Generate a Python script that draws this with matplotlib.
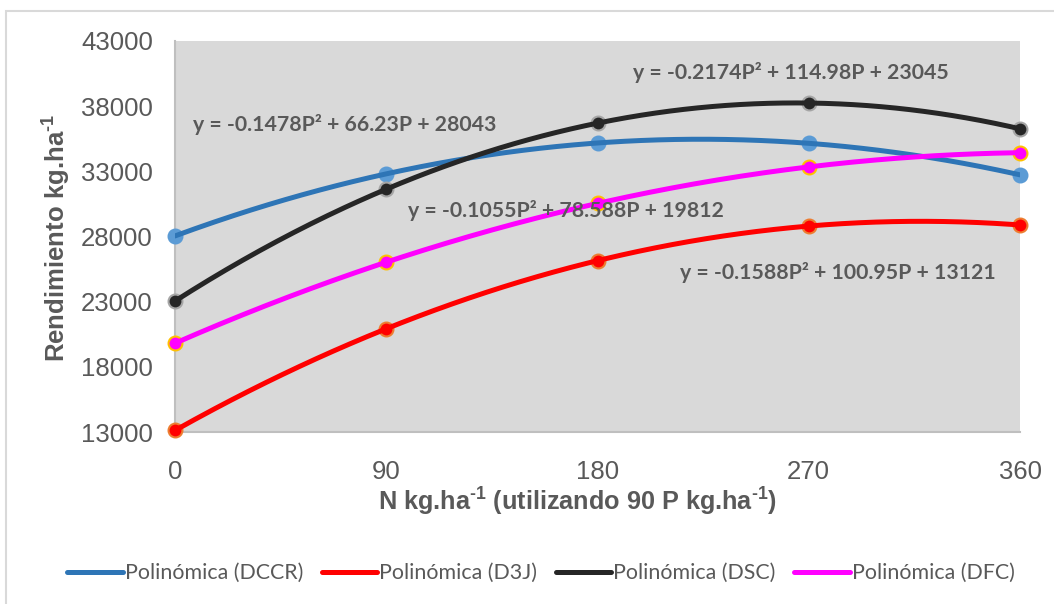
import numpy as np
import matplotlib.pyplot as plt
from matplotlib.lines import Line2D
from matplotlib.patches import Rectangle

plt.rcParams['mathtext.fontset'] = 'custom'
plt.rcParams['mathtext.rm'] = 'Liberation Sans:bold'
plt.rcParams['mathtext.bf'] = 'Liberation Sans:bold'

# dosis de N (kg/ha)
dosis = [0, 90, 180, 270, 360]
xticks = [0, 90, 180, 270, 360]
yticks = [13000, 18000, 23000, 28000, 33000, 38000, 43000]

# rendimientos observados por tratamiento
rend_dccr = [28040, 32810, 35180, 35150, 32730]
rend_d3j = [13120, 20920, 26150, 28800, 28880]
rend_dsc = [23050, 31630, 36700, 38240, 36260]
rend_dfc = [19810, 26030, 30540, 33340, 34430]

# coeficientes de las lineas de tendencia (a, b, c)
coef_dccr = [-0.1478, 66.23, 28043]
coef_d3j = [-0.1588, 100.95, 13121]
coef_dsc = [-0.2174, 114.98, 23045]
coef_dfc = [-0.1055, 78.588, 19812]

nombres = ["Polinómica (DCCR)", "Polinómica (D3J)", "Polinómica (DSC)", "Polinómica (DFC)"]
ecuaciones = ["y = -0.1478P² + 66.23P + 28043",
              "y = -0.1588P² + 100.95P + 13121",
              "y = -0.2174P² + 114.98P + 23045",
              "y = -0.1055P² + 78.588P + 19812"]
pos_ec = [(7.7, 36555), (215.1, 25276), (195.1, 40545), (99.3, 29957)]

series = [
    (rend_dccr, coef_dccr, "#2E75B6", "#5B9BD5", "#5B9BD5"),
    (rend_d3j, coef_d3j, "#FF0000", "#FF0000", "#ED7D31"),
    (rend_dsc, coef_dsc, "#262626", "#262626", "#A5A5A5"),
    (rend_dfc, coef_dfc, "#FF00FF", "#FF00FF", "#FFC000"),
]

fig = plt.figure(figsize=(10.54, 6.04), dpi=100)
fig.patches.append(Rectangle((6 / 1054, -0.1), 1.2, 1 - 11 / 604 + 0.1, transform=fig.transFigure,
                             fill=False, edgecolor="#D9D9D9", linewidth=1.5))
ax = fig.add_axes([175 / 1054, 1 - 432 / 604, 845 / 1054, 391 / 604])
ax.set_facecolor("#D9D9D9")

xs = np.linspace(0, 360, 300)
handles = []
for i, (rend, coef, col, fill, edge) in enumerate(series):
    ax.plot(dosis, rend, linestyle="none", marker="o", markersize=10, clip_on=False,
            markerfacecolor=fill, markeredgecolor=edge, markeredgewidth=1.5, zorder=3 + 2 * i)
    ax.plot(xs, np.polyval(coef, xs), color=col, linewidth=3.6, zorder=4 + 2 * i,
            solid_capstyle="round")
    handles.append(Line2D([0], [0], color=col, linewidth=3.6, solid_capstyle="round"))

for txt, (x, y) in zip(ecuaciones, pos_ec):
    ax.text(x, y, txt, fontsize=15.3, fontweight="bold", color="#595959", family="Lato",
            ha="left", va="center", zorder=20)

ax.set_xlim(0, 360)
ax.set_ylim(13000, 43000)
ax.set_xticks(xticks)
ax.set_yticks(yticks)
ax.tick_params(length=0, labelsize=18.5, labelcolor="#595959")
ax.tick_params(axis="y", pad=16)
ax.tick_params(axis="x", pad=20)
for lab in ax.get_xticklabels() + ax.get_yticklabels():
    lab.set_family("Liberation Sans")
for s in ["top", "right"]:
    ax.spines[s].set_visible(False)
for s in ["left", "bottom"]:
    ax.spines[s].set_color("#BFBFBF")
    ax.spines[s].set_linewidth(1.5)

fig.text(56 / 1054, 1 - 238 / 604, r"Rendimiento kg.ha$^{\text{-1}}$", rotation=90,
         fontsize=18.5, fontweight="bold", color="#595959", family="Liberation Sans",
         ha="center", va="center")
fig.text(577 / 1054, 1 - 502 / 604,
         r"N kg.ha$^{\text{-1}}$ (utilizando 90 P kg.ha$^{\text{-1}}$)",
         fontsize=18.2, fontweight="bold", color="#595959", family="Liberation Sans",
         ha="center", va="center")

fig.legend(handles, nombres, loc="center", bbox_to_anchor=(541 / 1054, 1 - 573 / 604),
           ncol=4, frameon=False, handlelength=2.6, handletextpad=0.1, columnspacing=0.85,
           prop={"family": "Lato", "size": 15.4}, labelcolor="#595959")

fig.savefig("out.png", dpi=100)
